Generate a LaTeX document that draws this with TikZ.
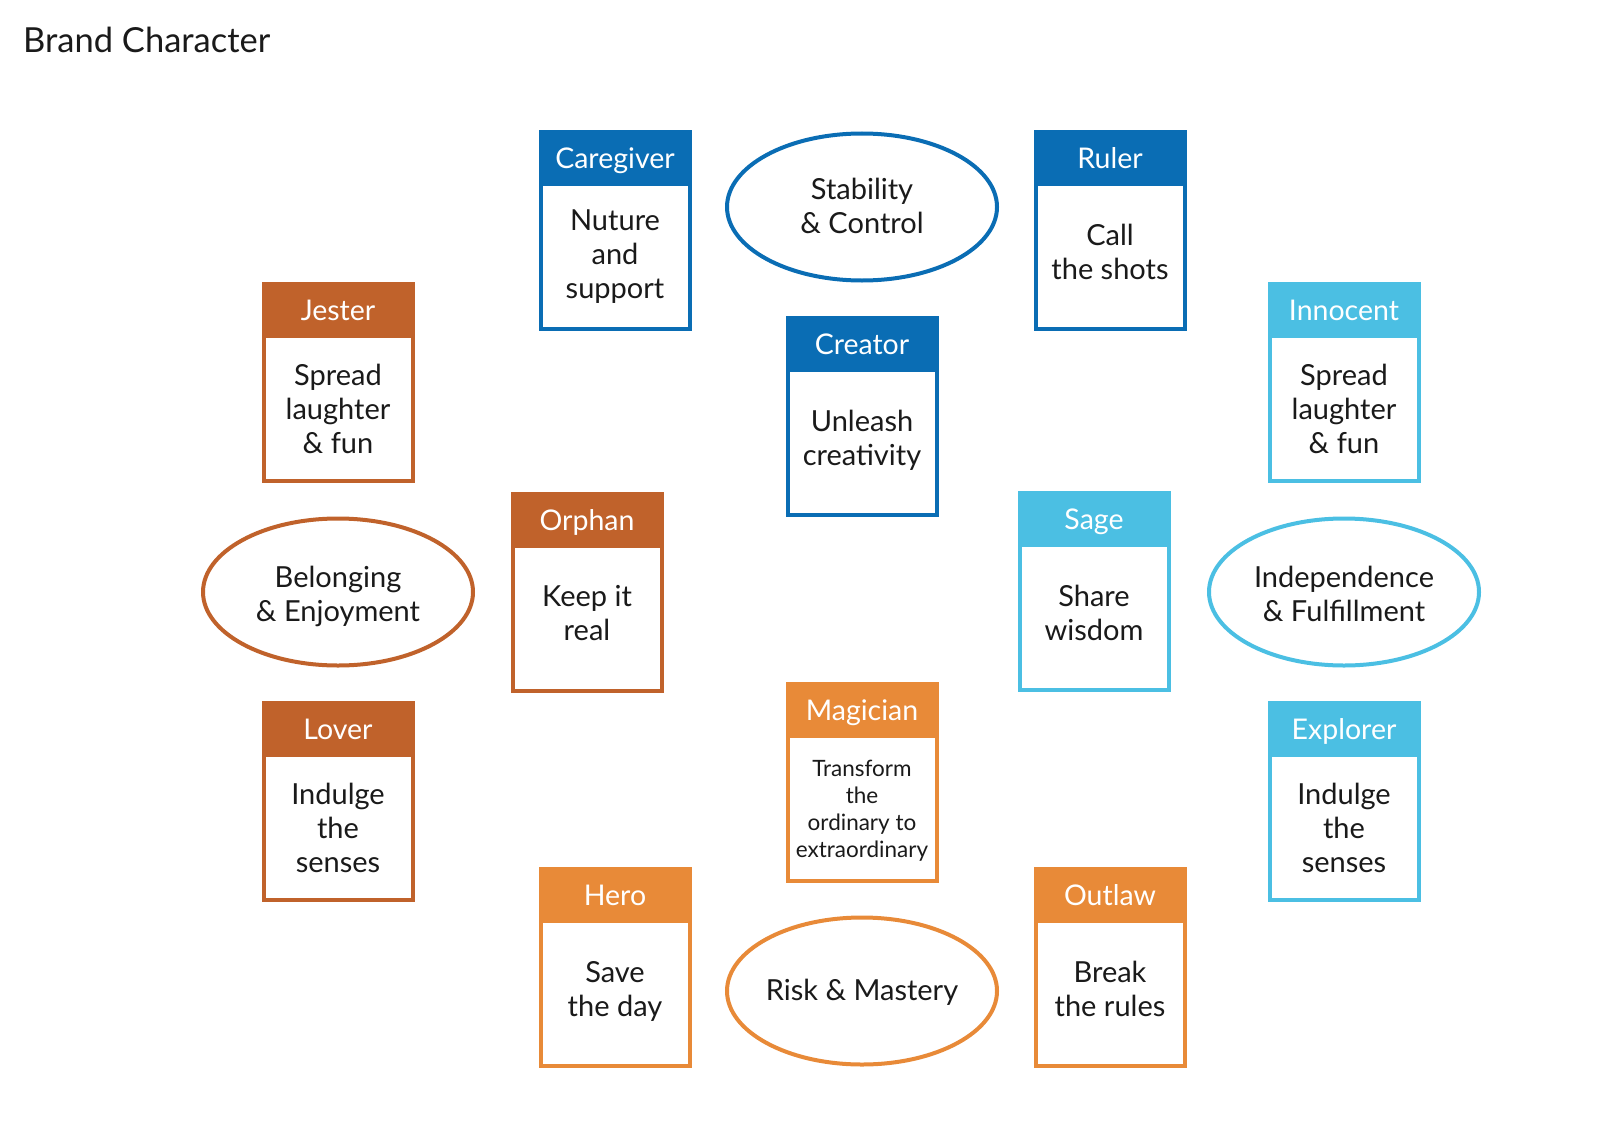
\documentclass[tikz,border=0pt]{standalone}
\usepackage{fontspec}
\setmainfont{Lato}
\usetikzlibrary{shapes.geometric}
\definecolor{blueC}{HTML}{0A6DB4}
\definecolor{brownC}{HTML}{C0622B}
\definecolor{cyanC}{HTML}{4BBFE3}
\definecolor{orangeC}{HTML}{E88A38}
\definecolor{txtC}{HTML}{1A1A1A}
\newcommand\ls{\rule[-0.3\baselineskip]{0pt}{\baselineskip}}
\tikzset{
  boxframe/.style={draw, line width=4pt, fill=white, minimum width=149pt, minimum height=197pt, inner sep=0pt},
  boxhead/.style={minimum width=153pt, minimum height=56pt, inner sep=0pt, text=white,
    font=\fontsize{28.5}{32}\selectfont, text height=20.5pt, text depth=0pt},
  boxbody/.style={align=center, text=txtC, inner sep=0pt},
  bodyfont/.style={font=\fontsize{29}{34}\selectfont},
  smallfont/.style={font=\fontsize{22.5}{27}\selectfont},
  goal/.style={ellipse, draw, line width=4pt, fill=white, minimum width=270pt, minimum height=147pt, inner sep=0pt},
  goaltext/.style={align=center, text=txtC, inner sep=0pt, font=\fontsize{29}{34}\selectfont},
}
\newcommand\archbox[8]{%
  \node[boxframe, draw=#4] (#1) at (#2, #3+100.5) {};
  \node[boxhead, fill=#4] (#1-head) at (#2, #3+28) {#5};
  \node[boxbody, #7] (#1-body) at (#2, #3+#8) {#6};
}
\begin{document}
\begin{tikzpicture}[x=1pt, y=-1pt]
\useasboundingbox (0,0) rectangle (1600,1121);
\node[anchor=base west, inner sep=0pt, text=txtC, font=\fontsize{34.5}{40}\selectfont] (title) at (23,53) {Brand Character};

\node[goal, draw=blueC] (stability) at (862,207) {};
\node[goaltext] (stability-text) at (862,210) {\ls Stability\\\ls\& Control};
\node[goal, draw=brownC] (belonging) at (338,592) {};
\node[goaltext] (belonging-text) at (338,598) {\ls Belonging\\\ls\& Enjoyment};
\node[goal, draw=cyanC] (independence) at (1344,592) {};
\node[goaltext] (independence-text) at (1344,598) {\ls Independence\\\ls\& Fulfillment};
\node[goal, draw=orangeC] (risk) at (862,991) {};
\node[goaltext] (risk-text) at (862,992) {Risk \& Mastery};

\archbox{caregiver}{615}{130}{blueC}{Caregiver}{\ls Nuture\\\ls and\\\ls support}{bodyfont}{127.5}
\archbox{ruler}{1110}{130}{blueC}{Ruler}{\ls Call\\\ls the shots}{bodyfont}{125.5}
\archbox{creator}{862}{316}{blueC}{Creator}{\ls Unleash\\\ls creativity}{bodyfont}{125.5}
\archbox{jester}{338}{282}{brownC}{Jester}{\ls Spread\\\ls laughter\\\ls\& fun}{bodyfont}{130.5}
\archbox{innocent}{1344}{282}{cyanC}{Innocent}{\ls Spread\\\ls laughter\\\ls\& fun}{bodyfont}{130.5}
\archbox{orphan}{587}{492}{brownC}{Orphan}{\ls Keep it\\\ls real}{bodyfont}{125}
\archbox{sage}{1094}{491}{cyanC}{Sage}{\ls Share\\\ls wisdom}{bodyfont}{125.5}
\archbox{lover}{338}{701}{brownC}{Lover}{\ls Indulge\\\ls the\\\ls senses}{bodyfont}{130.5}
\archbox{explorer}{1344}{701}{cyanC}{Explorer}{\ls Indulge\\\ls the\\\ls senses}{bodyfont}{130.5}
\archbox{magician}{862}{682}{orangeC}{Magician}{\ls Transform\\\ls the\\\ls ordinary to\\\ls extraordinary}{smallfont}{129.5}
\archbox{hero}{615}{867}{orangeC}{Hero}{\ls Save\\\ls the day}{bodyfont}{125.5}
\archbox{outlaw}{1110}{867}{orangeC}{Outlaw}{\ls Break\\\ls the rules}{bodyfont}{125.5}
\end{tikzpicture}
\end{document}
